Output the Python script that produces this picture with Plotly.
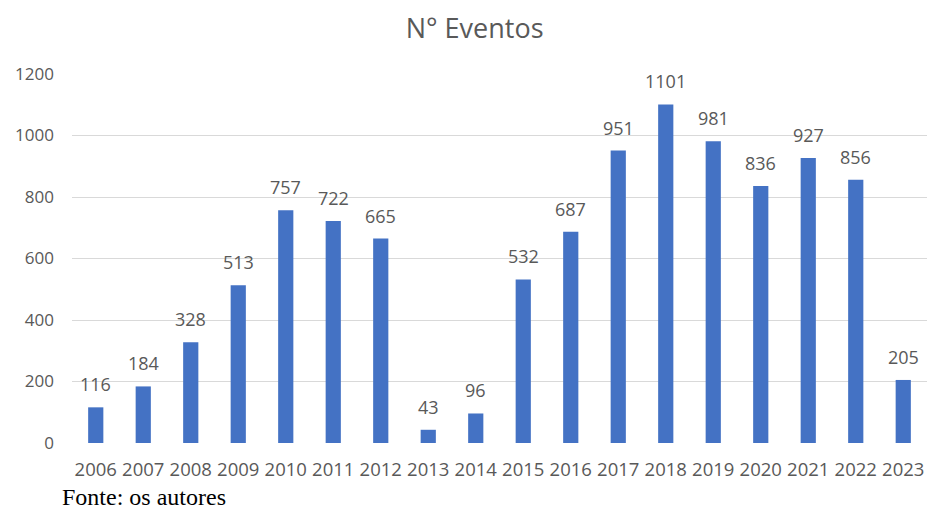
import plotly.graph_objects as go

years = ["2006", "2007", "2008", "2009", "2010", "2011", "2012", "2013", "2014",
         "2015", "2016", "2017", "2018", "2019", "2020", "2021", "2022", "2023"]
eventos = [116, 184, 328, 513, 757, 722, 665, 43, 96,
           532, 687, 951, 1101, 981, 836, 927, 856, 205]
y_ticks = [0, 200, 400, 600, 800, 1000, 1200]

gray = "#595959"
fig = go.Figure()
fig.add_trace(go.Bar(x=years, y=eventos, marker_color="#4472C4", marker_line_width=0))

for i, v in enumerate(eventos):
    fig.add_annotation(x=i, y=v, text=str(v), showarrow=False, yanchor="bottom",
                       yshift=9, font=dict(family="Open Sans", size=18, color=gray))

fig.add_annotation(xref="paper", yref="paper", x=-0.014, y=-0.146, xanchor="left",
                   yanchor="middle", text="Fonte: os autores", showarrow=False,
                   font=dict(family="Liberation Serif", size=24, color="black"))

fig.update_layout(
    width=927, height=511,
    margin=dict(l=72, r=0, t=74, b=68),
    paper_bgcolor="white", plot_bgcolor="white",
    bargap=0.68,
    showlegend=False,
    title=dict(text="N° Eventos", x=0.512, xref="container", xanchor="center",
               y=0.945, yref="container", yanchor="middle",
               font=dict(family="Open Sans", size=27, color=gray)),
    xaxis=dict(type="category", range=[-0.5, len(years) - 0.5], showgrid=False,
               showline=False, ticks="",
               tickfont=dict(family="Open Sans", size=18.5, color=gray),
               ticklabelstandoff=13),
    yaxis=dict(range=[0, 1200], tickvals=y_ticks, showgrid=True, gridcolor="#d9d9d9",
               gridwidth=1, zeroline=False, showline=False, ticks="",
               tickfont=dict(family="Open Sans", size=17, color=gray),
               ticklabelstandoff=17),
)
fig.write_html("out.html")
